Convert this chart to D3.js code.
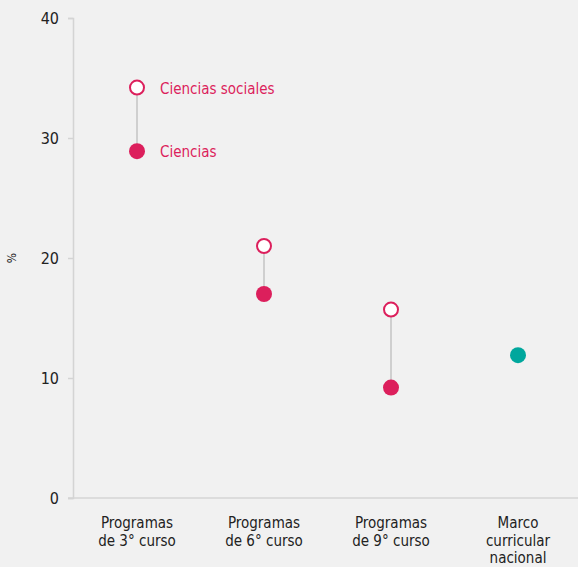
<!DOCTYPE html>
<html>
<head>
<meta charset="utf-8">
<script src="https://cdn.jsdelivr.net/npm/d3@7"></script>
<style>
  body { margin: 0; background: #f1f1f1; }
  svg { display: block; font-family: "DejaVu Sans Condensed", "DejaVu Sans", sans-serif; }
</style>
</head>
<body>
<svg id="chart" width="578" height="567"></svg>
<script>
'use strict';

// datos
var categories = ['Programas|de 3° curso', 'Programas|de 6° curso', 'Programas|de 9° curso', 'Marco|curricular|nacional'];
var sociales = [34.2, 21.0, 15.7, null];
var ciencias = [28.9, 17.0, 9.2, null];
var marco = [null, null, null, 11.9];
var yTicks = [0, 10, 20, 30, 40];

var pink = '#dc1f5c';
var teal = '#00a79d';

var svg = d3.select('#chart');
var margin = { top: 18, right: 0, bottom: 69, left: 73 };
var width = 578, height = 567;

var x = d3.scalePoint()
    .domain(categories)
    .range([137, 518]);

var y = d3.scaleLinear()
    .domain([0, 40])
    .range([height - margin.bottom, margin.top]);

// eje x (linea base)
svg.append('line')
    .attr('x1', 68).attr('x2', width)
    .attr('y1', y(0)).attr('y2', y(0))
    .attr('stroke', '#d4d4d4').attr('stroke-width', 1.5);

// eje y
var yAxis = svg.append('g')
    .attr('transform', 'translate(' + margin.left + ',0)')
    .call(d3.axisLeft(y).tickValues(yTicks).tickSize(5).tickPadding(9));
yAxis.select('.domain').attr('stroke', '#d4d4d4').attr('stroke-width', 1.5);
yAxis.selectAll('.tick line').attr('stroke', '#d4d4d4').attr('stroke-width', 1.5);
yAxis.selectAll('.tick text')
    .attr('fill', '#222')
    .style('font-family', '"DejaVu Sans Condensed", sans-serif')
    .attr('font-size', 16);

svg.append('text')
    .attr('transform', 'translate(16,' + y(20) + ') rotate(-90)')
    .attr('text-anchor', 'middle')
    .attr('fill', '#222')
    .attr('font-size', 12)
    .text('%');

// etiquetas de categorias
categories.forEach(function(c) {
    var lines = c.split('|');
    var t = svg.append('text')
        .attr('x', x(c))
        .attr('y', 528)
        .attr('text-anchor', 'middle')
        .attr('fill', '#222')
        .attr('font-size', 15);
    lines.forEach(function(l, i) {
        t.append('tspan').attr('x', x(c)).attr('dy', i === 0 ? 0 : 17.5).text(l);
    });
});

// tallos
categories.forEach(function(c, i) {
    if (sociales[i] == null) return;
    svg.append('line')
        .attr('x1', x(c)).attr('x2', x(c))
        .attr('y1', y(sociales[i])).attr('y2', y(ciencias[i]))
        .attr('stroke', '#cfcfcf').attr('stroke-width', 2);
});

var r = 8;

// ciencias (relleno)
categories.forEach(function(c, i) {
    if (ciencias[i] == null) return;
    svg.append('circle')
        .attr('cx', x(c)).attr('cy', y(ciencias[i])).attr('r', r)
        .attr('fill', pink);
});

// ciencias sociales (abierto)
categories.forEach(function(c, i) {
    if (sociales[i] == null) return;
    svg.append('circle')
        .attr('cx', x(c)).attr('cy', y(sociales[i])).attr('r', r - 1)
        .attr('fill', '#fff').attr('stroke', pink).attr('stroke-width', 2);
});

// marco curricular
categories.forEach(function(c, i) {
    if (marco[i] == null) return;
    svg.append('circle')
        .attr('cx', x(c)).attr('cy', y(marco[i])).attr('r', r)
        .attr('fill', teal);
});

// leyenda directa
svg.append('text')
    .attr('x', x(categories[0]) + 23).attr('y', y(sociales[0]) + 6)
    .attr('fill', pink).attr('font-size', 15)
    .text('Ciencias sociales');
svg.append('text')
    .attr('x', x(categories[0]) + 23).attr('y', y(ciencias[0]) + 6)
    .attr('fill', pink).attr('font-size', 15)
    .text('Ciencias');
</script>
</body>
</html>
